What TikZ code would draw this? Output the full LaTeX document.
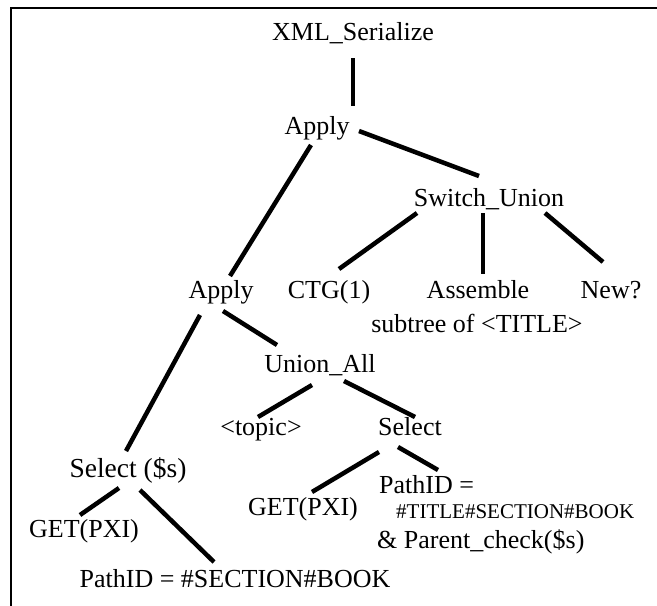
\documentclass[tikz,border=0pt]{standalone}
\usepackage{fontspec}
\setmainfont{Liberation Serif}
\begin{document}
\begin{tikzpicture}[x=1pt,y=-1pt,
  lbl/.style={inner sep=0pt,anchor=base,font=\fontsize{26}{30}\selectfont},
  lblw/.style={lbl,anchor=base west},
  small/.style={lblw,font=\fontsize{21}{25}\selectfont},
  edge/.style={line width=4.5pt}]
\useasboundingbox (0,0) rectangle (657,606);
\draw[line width=2pt] (680,8) -- (11,8) -- (11,640);

\node[lbl] (xml) at (353,40) {XML\_Serialize};
\node[lbl] (ap1) at (317,134) {Apply};
\node[lbl] (su) at (489,206) {Switch\_Union};
\node[lbl] (ap2) at (221,298) {Apply};
\node[lbl] (ctg) at (329,298) {CTG(1)};
\node[lbl] (asm) at (478,298) {Assemble};
\node[lbl] (new) at (611,298) {New?};
\node[lbl] (sub) at (477,332) {subtree of <TITLE>};
\node[lbl] (ua) at (320,372) {Union\_All};
\node[lbl] (topic) at (261,435) {<topic>};
\node[lbl] (sel) at (410,435) {Select};
\node[lbl,font=\fontsize{27.5}{30}\selectfont] (sels) at (128,477) {Select (\$s)};
\node[lbl] (get1) at (84,537) {GET(PXI)};
\node[lbl] (get2) at (303,515) {GET(PXI)};
\node[lblw] (p1) at (379,493) {PathID =};
\node[small] (p2) at (396,518) {\#TITLE\#SECTION\#BOOK};
\node[lblw] (p3) at (377,548) {\& Parent\_check(\$s)};
\node[lbl] (pb) at (235,587) {PathID = \#SECTION\#BOOK};

\draw[edge] ([shift={(0,18)}]xml.base) -- ([shift={(36,-28)}]ap1.base);
\draw[edge] ([shift={(42,-3)}]ap1.base) -- ([shift={(-10,-30)}]su.base);
\draw[edge] ([shift={(-6,11)}]ap1.base) -- ([shift={(9,-22)}]ap2.base);
\draw[edge] ([shift={(-72,7)}]su.base) -- ([shift={(10,-29)}]ctg.base);
\draw[edge] ([shift={(-6,7)}]su.base) -- ([shift={(5,-24)}]asm.base);
\draw[edge] ([shift={(56,7)}]su.base) -- ([shift={(-8,-36)}]new.base);
\draw[edge] ([shift={(-21,17)}]ap2.base) -- ([shift={(-2,-26)}]sels.base);
\draw[edge] ([shift={(2,13)}]ap2.base) -- ([shift={(-43,-27)}]ua.base);
\draw[edge] ([shift={(-8,13)}]ua.base) -- ([shift={(-3,-18)}]topic.base);
\draw[edge] ([shift={(24,9)}]ua.base) -- ([shift={(5,-18)}]sel.base);
\draw[edge] ([shift={(-31,17)}]sel.base) -- ([shift={(9,-23)}]get2.base);
\draw[edge] ([shift={(-12,12)}]sel.base) -- ([shift={(59,-23)}]p1.base west);
\draw[edge] ([shift={(-9,11)}]sels.base) -- ([shift={(-4,-22)}]get1.base);
\draw[edge] ([shift={(12,13)}]sels.base) -- ([shift={(-21,-25)}]pb.base);
\end{tikzpicture}
\end{document}
